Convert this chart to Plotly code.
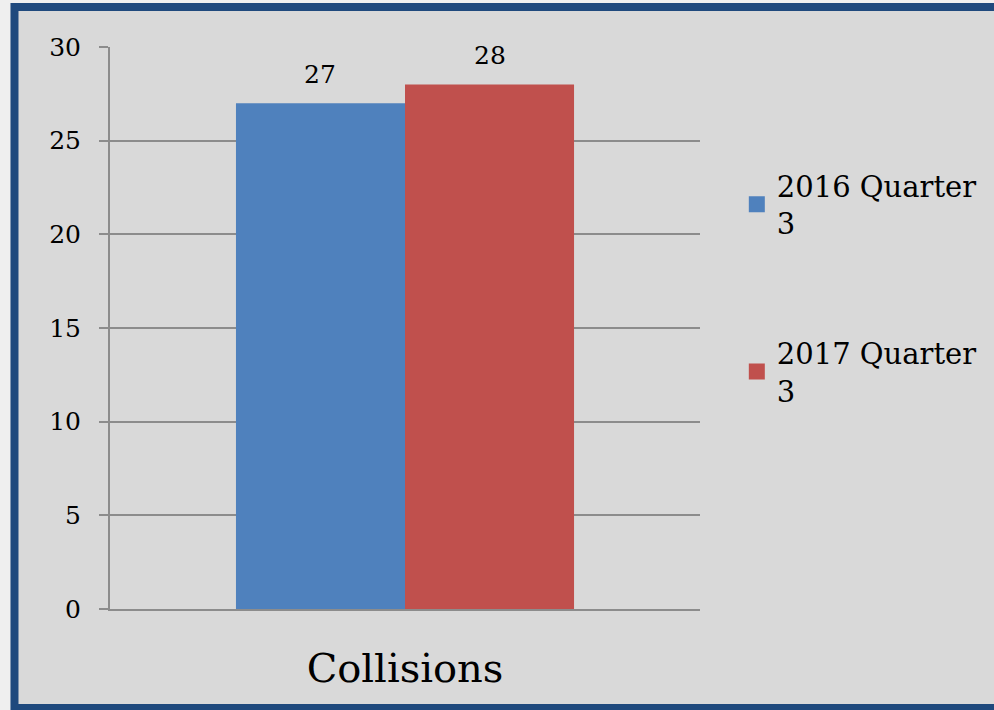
import plotly.graph_objects as go

categories = ["Collisions"]
series_names = ["2016 Quarter<br>3", "2017 Quarter<br>3"]
values_2016 = [27]
values_2017 = [28]
colors = ["#4f81bd", "#c0504d"]
y_ticks = [0, 5, 10, 15, 20, 25, 30]

FONT = "DejaVu Serif"
W, H = 994, 710
ML, MR, MT, MB = 110, 291, 47, 101
PW, PH = W - ML - MR, H - MT - MB

def px_x(px):
    return (px - ML) / PW

def px_y(py):
    return (H - MB - py) / PH

fig = go.Figure()
for i, (name, vals) in enumerate([(series_names[0], values_2016), (series_names[1], values_2017)]):
    fig.add_trace(go.Bar(
        x=categories, y=vals, name=name, marker=dict(color=colors[i], line=dict(width=0)),
        offsetgroup=str(i), showlegend=False,
    ))
    fig.add_trace(go.Scatter(
        x=[None], y=[None], mode="markers", name=name, legendgroup=str(i),
        marker=dict(symbol="square", size=20, color=colors[i]),
    ))
    for c, v in zip(categories, vals):
        fig.add_annotation(
            x=c, y=v, text=str(v), showarrow=False, yanchor="bottom",
            xshift=(-85 if i == 0 else 85), yshift=12,
            font=dict(family=FONT, size=25, color="#000000"),
        )

# background frame
fig.add_shape(type="rect", xref="paper", yref="paper",
              x0=px_x(14), x1=px_x(1010), y0=px_y(708), y1=px_y(7),
              fillcolor="#d9d9d9", line=dict(color="#1f497d", width=8), layer="below")

fig.update_layout(
    width=W, height=H,
    margin=dict(l=ML, r=MR, t=MT, b=MB, pad=0),
    paper_bgcolor="#efefef", plot_bgcolor="rgba(0,0,0,0)",
    barmode="group", bargap=0.427, bargroupgap=0,
    font=dict(family=FONT, color="#000000"),
    showlegend=True,
    legend=dict(x=px_x(740), y=px_y(160), xanchor="left", yanchor="top",
                font=dict(family=FONT, size=29, color="#000000"),
                bgcolor="rgba(0,0,0,0)", tracegroupgap=89, itemwidth=30),
    xaxis=dict(showgrid=False, showline=True, linecolor="#8c8c8c", linewidth=2,
               ticks="inside", tickson="boundaries", ticklen=14, tickwidth=2, tickcolor="#8c8c8c",
               tickfont=dict(family=FONT, size=40, color="#000000"), ticklabelstandoff=23),
    yaxis=dict(range=[0, 30], tickvals=y_ticks, showgrid=True, gridcolor="#8c8c8c", gridwidth=2,
               showline=True, linecolor="#8c8c8c", linewidth=2, zeroline=False,
               ticks="outside", ticklen=9, tickwidth=2, tickcolor="#8c8c8c",
               tickfont=dict(family=FONT, size=25, color="#000000"), ticklabelstandoff=13),
)

fig.write_html("out.html", config={"displayModeBar": False},
               post_script="document.body.style.margin='0';document.body.style.overflow='hidden';")
